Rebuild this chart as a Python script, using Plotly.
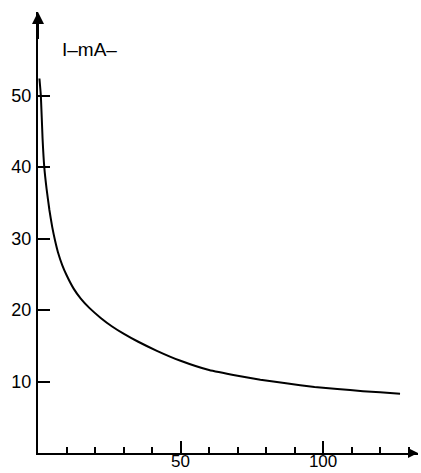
import plotly.graph_objects as go

# Data (time in min, current in mA)
time_min = [0.5, 1.0, 1.6, 2.2, 3.0, 4.0, 5.0, 6.0, 7.0, 8.5, 10.0, 12.5, 15.0,
            18.0, 22.0, 26.0, 30.0, 35.0, 41.7, 50.0, 60.0, 70.0, 78.0, 87.0,
            97.0, 105.0, 114.0, 120.0, 127.0]
current_mA = [52.4, 50.0, 44.0, 40.0, 37.0, 34.0, 31.6, 29.7, 28.1, 26.3, 24.9, 23.0, 21.6,
              20.3, 18.9, 17.7, 16.7, 15.6, 14.3, 12.9, 11.6, 10.8, 10.25, 9.75,
              9.25, 8.95, 8.65, 8.5, 8.3]

y_ticks = [10, 20, 30, 40, 50]
x_ticks = [50, 100]

X_MAX = 133.3
Y_MAX = 61.7

fig = go.Figure()
fig.add_trace(go.Scatter(
    x=time_min, y=current_mA, mode="lines",
    line=dict(color="black", width=2, shape="spline", smoothing=0.5),
    hoverinfo="skip", showlegend=False,
))

font = dict(family="Liberation Sans, Arial, sans-serif", size=18, color="black")
xfont = dict(family="Liberation Sans, Arial, sans-serif", size=17, color="black")
tfont = dict(family="Liberation Sans, Arial, sans-serif", size=19, color="black")

fig.update_layout(
    width=421, height=473,
    margin=dict(l=38, r=3, t=12, b=20, autoexpand=False),
    paper_bgcolor="white", plot_bgcolor="white",
    showlegend=False,
    font=font,
    xaxis=dict(
        range=[0, X_MAX], showgrid=False, zeroline=False, automargin=False,
        showline=True, linecolor="black", linewidth=2,
        tickvals=x_ticks, ticktext=[str(v) for v in x_ticks],
        ticks="inside", ticklen=12, tickwidth=1.5, tickcolor="black",
        ticklabelstandoff=-8,
        minor=dict(dtick=10, tick0=0, ticks="inside", ticklen=6,
                   tickwidth=1.5, tickcolor="black", showgrid=False),
        tickfont=xfont, fixedrange=True,
    ),
    yaxis=dict(
        range=[0, Y_MAX], showgrid=False, zeroline=False, automargin=False,
        showline=True, linecolor="black", linewidth=2,
        tickvals=y_ticks, ticktext=[str(v) for v in y_ticks],
        ticks="inside", ticklen=12, tickwidth=1.5, tickcolor="black",
        ticklabelstandoff=1,
        tickfont=font, fixedrange=True,
    ),
)

# Arrowheads at axis ends
fig.add_annotation(x=0, y=Y_MAX, ax=0, ay=Y_MAX - 4, xref="x", yref="y",
                   axref="x", ayref="y", showarrow=True, arrowhead=2,
                   arrowsize=1.2, arrowwidth=2, arrowcolor="black", text="")
fig.add_annotation(x=X_MAX, y=0, ax=X_MAX - 4, ay=0, xref="x", yref="y",
                   axref="x", ayref="y", showarrow=True, arrowhead=2,
                   arrowsize=1.0, arrowwidth=2, arrowcolor="black", text="")

# Axis titles
fig.add_annotation(x=7.8, y=56.5, xref="x", yref="y", text="I–mA–",
                   showarrow=False, xanchor="left", yanchor="middle", font=tfont)
fig.add_annotation(x=X_MAX + 1, y=4.5, xref="x", yref="y", text="time–min–",
                   showarrow=False, xanchor="right", yanchor="middle", font=tfont)

fig.write_html("out.html", config={"displayModeBar": False},
               post_script="document.body.style.margin='0';")
